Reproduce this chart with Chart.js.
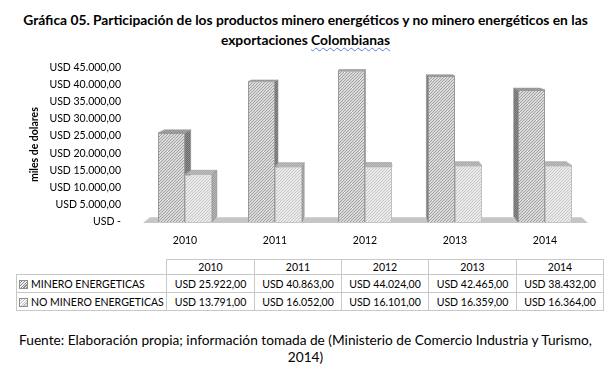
<!DOCTYPE html>
<html lang="es">
<head>
<meta charset="UTF-8">
<title>Gráfica 05 - Exportaciones Colombianas</title>
<script src="https://cdn.jsdelivr.net/npm/chart.js"></script>
<style>
    body {
        margin: 0;
        width: 611px;
        height: 367px;
        position: relative;
        overflow: hidden;
        background: #fff;
        font-family: Lato, "Open Sans", sans-serif;
        color: #000;
    }
    .titulo {
        position: absolute;
        top: 10px;
        left: 0;
        width: 611px;
        text-align: center;
        font-weight: bold;
        font-size: 13.8px;
        line-height: 20px;
    }
    .subrayado {
        text-decoration: underline wavy #5b7fd6;
        text-decoration-thickness: 1px;
        text-underline-offset: 2px;
    }
    .chart-box {
        position: absolute;
        top: 50px;
        left: 0;
    }
    #tabla {
        position: absolute;
        left: 16px;
        top: 259px;
        border-collapse: collapse;
        font-size: 10.5px;
        table-layout: fixed;
    }
    #tabla td {
        border: 1px solid #c8c8c8;
        padding: 0;
        text-align: center;
        white-space: nowrap;
    }
    #tabla tr.cab td { height: 14px; }
    #tabla tr.fila td { height: 17px; }
    #tabla td.vacia { border-top: none; border-left: none; }
    #tabla td.serie { text-align: left; padding-left: 2px; }
    .icono {
        display: inline-block;
        width: 7px;
        height: 7px;
        margin-right: 3px;
        vertical-align: -1px;
        border: 1px solid #8c8c8c;
    }
    .fuente {
        position: absolute;
        top: 331px;
        left: 0;
        width: 611px;
        text-align: center;
        font-size: 13.7px;
        line-height: 17px;
    }
</style>
</head>
<body>

<div class="titulo">Gráfica 05. Participación de los productos minero energéticos y no minero energéticos en las<br>exportaciones <span class="subrayado">Colombianas</span></div>

<div class="chart-box">
    <canvas id="grafica" width="611" height="200"></canvas>
</div>

<table id="tabla"></table>

<div class="fuente">Fuente: Elaboración propia; información tomada de (Ministerio de Comercio Industria y Turismo,<br>2014)</div>

<script>
    // Datos (miles de dolares)
    const anios = ['2010', '2011', '2012', '2013', '2014'];
    const series = ['MINERO ENERGETICAS', 'NO MINERO ENERGETICAS'];
    const minero = [25922, 40863, 44024, 42465, 38432];
    const noMinero = [13791, 16052, 16101, 16359, 16364];
    const ejeY = { min: 0, max: 45000, paso: 5000 };

    // formato "USD 25.922,00"
    function usd(v) {
        if (v === 0) return 'USD -';
        return 'USD ' + String(v).replace(/\B(?=(\d{3})+(?!\d))/g, '.') + ',00';
    }

    // rayado diagonal para las caras frontales
    function rayado(fondo, linea, paso) {
        const c = document.createElement('canvas');
        c.width = paso; c.height = paso;
        const g = c.getContext('2d');
        g.fillStyle = fondo;
        g.fillRect(0, 0, paso, paso);
        g.strokeStyle = linea;
        g.lineWidth = 1.1;
        g.beginPath();
        g.moveTo(-1, paso + 1); g.lineTo(paso + 1, -1);
        g.moveTo(-1, 1); g.lineTo(1, -1);
        g.moveTo(paso - 1, paso + 1); g.lineTo(paso + 1, paso - 1);
        g.stroke();
        return g.createPattern(c, 'repeat');
    }

    // punteado para caras laterales y superiores
    function punteado(a, b) {
        const c = document.createElement('canvas');
        c.width = 2; c.height = 2;
        const g = c.getContext('2d');
        g.fillStyle = a; g.fillRect(0, 0, 2, 2);
        g.fillStyle = b; g.fillRect(0, 0, 1, 1); g.fillRect(1, 1, 1, 1);
        return g.createPattern(c, 'repeat');
    }

    const frente = [rayado('#f4f4f4', '#9c9c9c', 3), rayado('#fafafa', '#c4c4c4', 3)];
    const lateral = [punteado('#6c6c6c', '#8e8e8e'), punteado('#9c9c9c', '#b6b6b6')];
    const tapa = [punteado('#8e8e8e', '#a8a8a8'), punteado('#a8a8a8', '#c0c0c0')];

    // caras 3D: piso, laterales y tapas, hacia un punto de fuga
    const caras3d = {
        id: 'caras3d',
        beforeDatasetsDraw(chart) {
            const ctx = chart.ctx, a = chart.chartArea;
            const vp = { x: a.left + (a.right - a.left) * 0.52, y: a.top - 36 };
            const k = 0.03;
            const atras = (x, y) => [x + (vp.x - x) * k, y + (vp.y - y) * k];
            const poligono = (pts, fill, stroke) => {
                ctx.beginPath();
                ctx.moveTo(pts[0][0], pts[0][1]);
                for (let i = 1; i < pts.length; i++) ctx.lineTo(pts[i][0], pts[i][1]);
                ctx.closePath();
                ctx.fillStyle = fill;
                ctx.fill();
                if (stroke) { ctx.strokeStyle = stroke; ctx.lineWidth = 0.6; ctx.stroke(); }
            };
            ctx.save();
            // piso
            const fy = a.bottom + 1;
            poligono([[a.left + 3, fy], [a.right - 2, fy], atras(a.right - 2, fy), atras(a.left + 3, fy)], '#c6c6c6');

            chart.data.datasets.forEach((ds, i) => {
                chart.getDatasetMeta(i).data.forEach(bar => {
                    const p = bar.getProps(['x', 'y', 'base', 'width'], true);
                    const l = p.x - p.width / 2, r = p.x + p.width / 2;
                    if (vp.x > r) {
                        poligono([[r, p.y], [r, p.base], atras(r, p.base), atras(r, p.y)], lateral[i], '#8a8a8a');
                    } else if (vp.x < l) {
                        poligono([[l, p.y], [l, p.base], atras(l, p.base), atras(l, p.y)], lateral[i], '#8a8a8a');
                    }
                    poligono([[l, p.y], [r, p.y], atras(r, p.y), atras(l, p.y)], tapa[i], '#999');
                });
            });
            ctx.restore();
        }
    };

    const fuenteEje = { family: 'Lato, "Open Sans", sans-serif', size: 10.5 };

    new Chart(document.getElementById('grafica'), {
        type: 'bar',
        data: {
            labels: anios,
            datasets: [
                {
                    label: series[0],
                    data: minero,
                    backgroundColor: frente[0],
                    borderColor: '#9a9a9a',
                    borderWidth: 1,
                    categoryPercentage: 0.6,
                    barPercentage: 1
                },
                {
                    label: series[1],
                    data: noMinero,
                    backgroundColor: frente[1],
                    borderColor: '#c0c0c0',
                    borderWidth: 1,
                    categoryPercentage: 0.6,
                    barPercentage: 1
                }
            ]
        },
        options: {
            responsive: false,
            animation: false,
            layout: { padding: { left: 24, right: 21, top: 10, bottom: 0 } },
            plugins: {
                legend: { display: false },
                tooltip: { enabled: false }
            },
            scales: {
                x: {
                    grid: { display: false },
                    border: { display: false },
                    ticks: { font: fuenteEje, color: '#000', padding: 4 },
                    afterFit: s => { s.height = 28; }
                },
                y: {
                    min: ejeY.min,
                    max: ejeY.max,
                    grid: { display: false },
                    border: { display: false },
                    ticks: {
                        stepSize: ejeY.paso,
                        font: fuenteEje,
                        color: '#000',
                        padding: 11,
                        callback: v => usd(v)
                    },
                    title: {
                        display: true,
                        text: 'miles de dolares',
                        font: { family: fuenteEje.family, size: 10.5, weight: 'bold' },
                        color: '#000',
                        padding: { top: 4, bottom: 0 }
                    },
                    afterFit: s => { s.width = 116; }
                }
            }
        },
        plugins: [caras3d]
    });

    // tabla de datos bajo la gráfica
    const tabla = document.getElementById('tabla');
    const anchos = [150, 88, 87, 87, 88, 87];
    const colgroup = document.createElement('colgroup');
    anchos.forEach(w => {
        const c = document.createElement('col');
        c.style.width = w + 'px';
        colgroup.appendChild(c);
    });
    tabla.appendChild(colgroup);

    let html = '<tr class="cab"><td class="vacia"></td>' + anios.map(a => '<td>' + a + '</td>').join('') + '</tr>';
    const iconos = [
        'repeating-linear-gradient(135deg, #f0f0f0 0 1px, #8a8a8a 1px 2px)',
        'repeating-linear-gradient(135deg, #fafafa 0 1px, #c0c0c0 1px 2px)'
    ];
    [minero, noMinero].forEach((vals, i) => {
        html += '<tr class="fila"><td class="serie"><span class="icono" style="background:' + iconos[i] + '"></span>' +
            series[i] + '</td>' + vals.map(v => '<td>' + usd(v) + '</td>').join('') + '</tr>';
    });
    tabla.innerHTML += html;
</script>

</body>
</html>
